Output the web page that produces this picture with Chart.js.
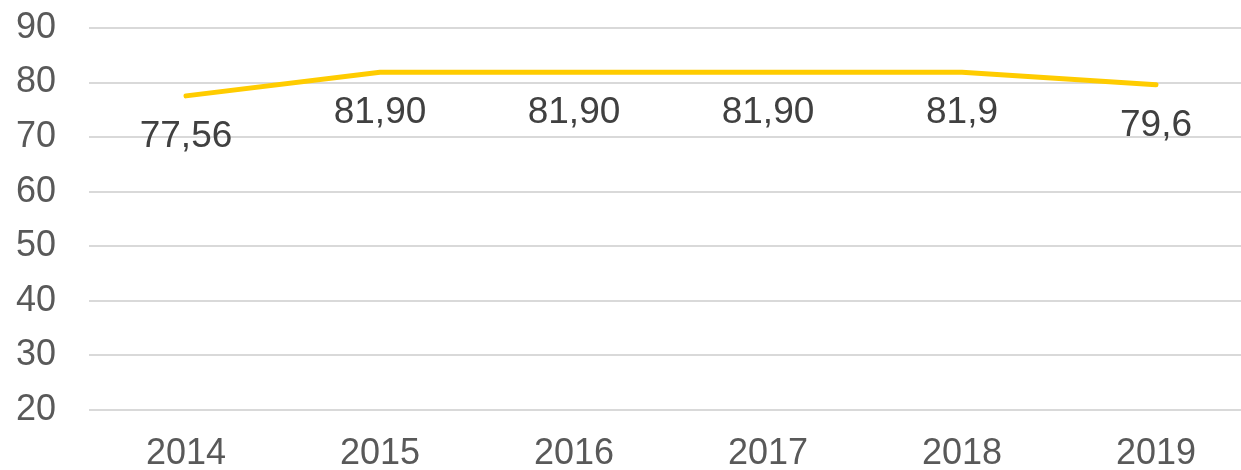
<!DOCTYPE html>
<html>
<head>
<meta charset="utf-8">
<script src="https://cdn.jsdelivr.net/npm/chart.js@4"></script>
<style>
    html, body { margin: 0; padding: 0; background: #fff; overflow: hidden; }
    #wrap { width: 1253px; height: 470px; }
</style>
</head>
<body>
<div id="wrap"><canvas id="lineChart"></canvas></div>
<script>
const years = ['2014', '2015', '2016', '2017', '2018', '2019'];
const values = [77.56, 81.9, 81.9, 81.9, 81.9, 79.6];
const valueLabels = ['77,56', '81,90', '81,90', '81,90', '81,9', '79,6'];

const fontFamily = '"Liberation Sans", Arial, sans-serif';

// writes the value text under each point
const valueLabelPlugin = {
    id: 'valueLabels',
    afterDatasetsDraw(chart) {
        const ctx = chart.ctx;
        const meta = chart.getDatasetMeta(0);
        ctx.save();
        ctx.font = '37px ' + fontFamily;
        ctx.fillStyle = '#404040';
        ctx.textAlign = 'center';
        ctx.textBaseline = 'middle';
        meta.data.forEach((pt, i) => {
            ctx.fillText(valueLabels[i], pt.x, pt.y + 41);
        });
        ctx.restore();
    }
};

const ctx = document.getElementById('lineChart').getContext('2d');
new Chart(ctx, {
    type: 'line',
    data: {
        labels: years,
        datasets: [{
            data: values,
            borderColor: '#FFCC00',
            borderWidth: 5,
            borderCapStyle: 'round',
            borderJoinStyle: 'round',
            pointRadius: 0,
            tension: 0,
            fill: false
        }]
    },
    options: {
        responsive: true,
        maintainAspectRatio: false,
        animation: false,
        layout: { autoPadding: false, padding: { top: 28, right: 0, bottom: 0, left: 0 } },
        plugins: {
            legend: { display: false },
            tooltip: { enabled: false }
        },
        scales: {
            x: {
                offset: true,
                grid: { display: false, drawTicks: false },
                border: { display: false },
                ticks: {
                    padding: 26,
                    color: '#595959',
                    font: { family: fontFamily, size: 36, lineHeight: 1 }
                },
                afterFit(axis) { axis.height = 60; }
            },
            y: {
                min: 20,
                max: 90,
                grid: { color: '#d9d9d9', lineWidth: 2, drawTicks: false },
                border: { display: false },
                ticks: {
                    stepSize: 10,
                    padding: 33,
                    color: '#595959',
                    font: { family: fontFamily, size: 36 }
                },
                afterFit(axis) {
                    axis.width = 89;
                    axis.paddingTop = 0;
                    axis.paddingBottom = 0;
                }
            }
        }
    },
    plugins: [valueLabelPlugin]
});
</script>
</body>
</html>
